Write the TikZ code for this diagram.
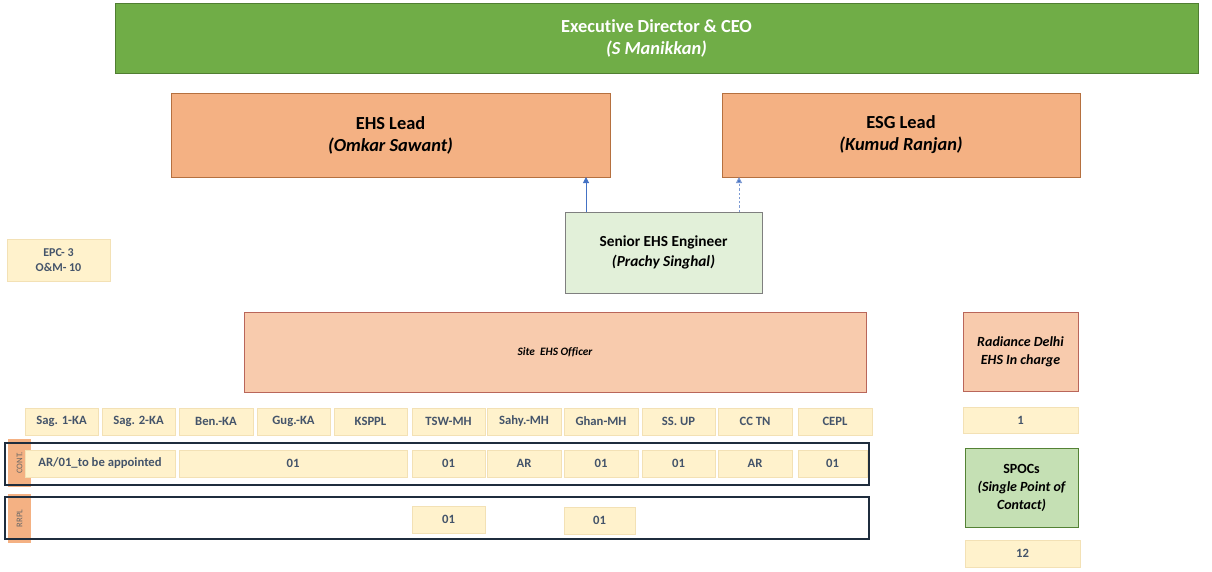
\documentclass[tikz,border=0pt]{standalone}
\usepackage{fontspec}
\setmainfont{Carlito}[Ligatures=NoCommon]
\usetikzlibrary{arrows.meta}
\definecolor{ceogreen}{HTML}{70AD47}
\definecolor{ceoborder}{HTML}{507E32}
\definecolor{leadfill}{HTML}{F4B183}
\definecolor{leadborder}{HTML}{B5703F}
\definecolor{senfill}{HTML}{E2F0D9}
\definecolor{senborder}{HTML}{7F7F7F}
\definecolor{sitefill}{HTML}{F8CBAD}
\definecolor{siteborder}{HTML}{B9665A}
\definecolor{cellfill}{HTML}{FFF2CC}
\definecolor{cellborder}{HTML}{F3E1B5}
\definecolor{celltext}{HTML}{44546A}
\definecolor{spocfill}{HTML}{C5E0B4}
\definecolor{spocborder}{HTML}{548235}
\definecolor{framecol}{HTML}{1F2D3D}
\definecolor{arrowblue}{HTML}{4472C4}
\definecolor{dashblue}{HTML}{7E9BD3}
\newcommand\pbox[7]{\node[#1, minimum width={(#5-#3)*0.75pt}, minimum height={(#6-#4)*0.75pt}] (#2) at ({(#3+#5)/2},{(#4+#6)/2}) {#7};}
\tikzset{
  base/.style={rectangle, inner sep=0pt, outer sep=0pt, align=center},
  ceo/.style={base, fill=ceogreen, draw=ceoborder, line width=0.75pt, text=white, font=\fontsize{13.8}{16.5}\selectfont\bfseries},
  lead/.style={base, fill=leadfill, draw=leadborder, line width=0.6pt, text=black, font=\fontsize{13.8}{16.5}\selectfont\bfseries},
  senior/.style={base, fill=senfill, draw=senborder, line width=0.75pt, text=black, font=\fontsize{11.5}{15}\selectfont\bfseries},
  site/.style={base, fill=sitefill, draw=siteborder, line width=0.75pt, text=black, font=\fontsize{8.5}{11}\selectfont\bfseries\itshape},
  radiance/.style={base, fill=sitefill, draw=siteborder, line width=0.75pt, text=black, font=\fontsize{10.5}{13.5}\selectfont\bfseries\itshape},
  spoc/.style={base, fill=spocfill, draw=spocborder, line width=0.6pt, text=black, font=\fontsize{10.5}{13.5}\selectfont\bfseries},
  cell/.style={base, fill=cellfill, draw=cellborder, line width=0.5pt, text=celltext, font=\fontsize{9.5}{12}\selectfont\bfseries},
  epc/.style={base, fill=cellfill, draw=cellborder, line width=0.5pt, text=celltext, font=\fontsize{9}{11}\selectfont\bfseries},
  frame/.style={base, draw=framecol, line width=1.5pt},
  tab/.style={base, fill=leadfill},
  tablabel/.style={text=black!60, font=\fontsize{6.5}{7}\selectfont, rotate=90},
  arr/.style={arrowblue, line width=0.75pt, -{Triangle[length=4.5pt,width=4.5pt]}},
  darr/.style={dashblue, line width=0.75pt, dash pattern=on 1.8pt off 1.4pt, -{Triangle[length=4.5pt,width=4.5pt,fill=arrowblue]}}
}
\begin{document}
\begin{tikzpicture}[x=0.75pt,y=-0.75pt]
\useasboundingbox (0,0) rectangle (1212,571);
% top levels
\pbox{ceo}{ceo}{115}{3}{1198}{73}{Executive Director \& CEO\\\itshape (S Manikkan)}
\pbox{lead}{ehs}{171}{93}{610}{177}{EHS Lead\\\itshape (Omkar Sawant)}
\pbox{lead}{esg}{722}{93}{1080}{177}{ESG Lead\\\itshape (Kumud Ranjan)}
\pbox{senior}{sen}{565}{212}{762}{293}{Senior EHS Engineer\\\itshape (Prachy Singhal)}
\coordinate (a1) at (586,0);
\coordinate (a2) at (739,0);
\draw[arr] (sen.north -| a1) -- (ehs.south -| a1);
\draw[darr] (sen.north -| a2) -- (esg.south -| a2);
% left info
\pbox{epc}{epc}{7}{239}{110}{281}{EPC- 3\\O\&M- 10}
% site officer
\pbox{site}{site}{244}{312}{866}{392}{Site~ EHS Officer}
\pbox{radiance}{rad}{963}{312}{1078}{391}{Radiance Delhi\\EHS In charge}
\pbox{cell}{one}{963}{407}{1078}{433}{1}
\pbox{spoc}{spoc}{965}{448}{1078}{527}{SPOCs\\\itshape (Single Point of\\\itshape Contact)}
\pbox{cell}{twelve}{965}{540}{1080}{567}{12}
% site header row
\pbox{cell}{h1}{25}{408}{98}{435}{Sag. 1-KA}
\pbox{cell}{h2}{102}{408}{175}{435}{Sag. 2-KA}
\pbox{cell}{h3}{179}{408}{253}{435}{Ben.-KA}
\pbox{cell}{h4}{257}{408}{330}{435}{Gug.-KA}
\pbox{cell}{h5}{334}{408}{407}{435}{KSPPL}
\pbox{cell}{h6}{412}{408}{485}{435}{TSW-MH}
\pbox{cell}{h7}{487}{408}{561}{435}{Sahy.-MH}
\pbox{cell}{h8}{564}{408}{638}{435}{Ghan-MH}
\pbox{cell}{h9}{642}{408}{715}{435}{SS. UP}
\pbox{cell}{h10}{718}{408}{792}{435}{CC TN}
\pbox{cell}{h11}{798}{408}{872}{435}{CEPL}
% CONT row
\pbox{tab}{conttab}{8}{439}{31}{487}{}
\node[tablabel] at (conttab.center) {CONT.};
\pbox{frame}{contframe}{5}{443}{869}{485}{}
\pbox{cell}{c1}{25}{450}{175}{477}{AR/01\_to be appointed}
\pbox{cell}{c2}{179}{450}{407}{477}{01}
\pbox{cell}{c3}{412}{450}{485}{477}{01}
\pbox{cell}{c4}{487}{450}{561}{477}{AR}
\pbox{cell}{c5}{564}{450}{638}{477}{01}
\pbox{cell}{c6}{642}{450}{715}{477}{01}
\pbox{cell}{c7}{718}{450}{792}{477}{AR}
\pbox{cell}{c8}{798}{450}{867}{477}{01}
% RRPL row
\pbox{tab}{rrpltab}{8}{494}{31}{543}{}
\node[tablabel] at (rrpltab.center) {RRPL};
\pbox{frame}{rrplframe}{5}{497}{869}{539}{}
\pbox{cell}{r1}{412}{506}{485}{533}{01}
\pbox{cell}{r2}{564}{507}{635}{534}{01}
\end{tikzpicture}
\end{document}
